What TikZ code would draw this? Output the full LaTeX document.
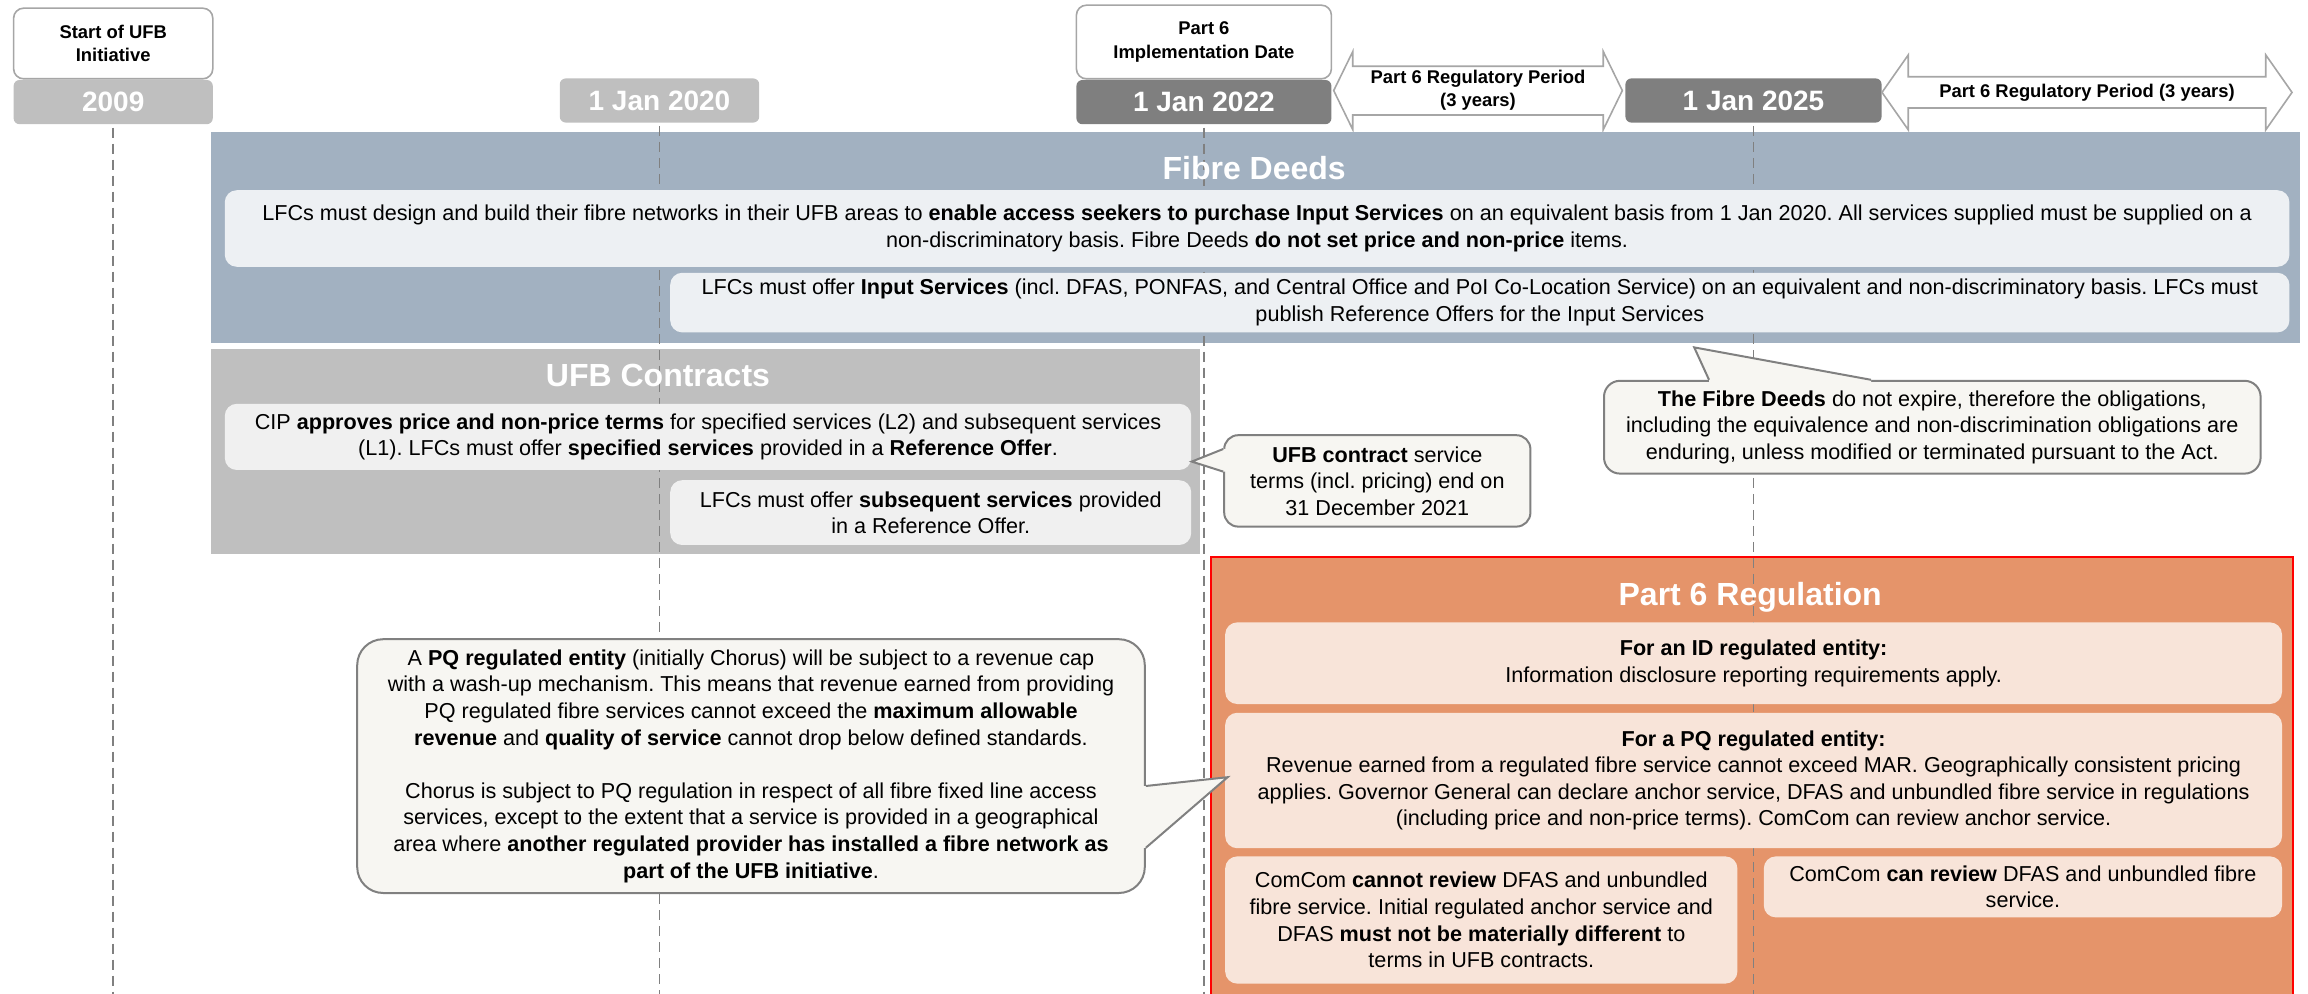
\documentclass[tikz,border=0pt]{standalone}
\usepackage{fontspec}
\setmainfont{Liberation Sans}
\usetikzlibrary{positioning, shapes.arrows}

\definecolor{deedband}{HTML}{A2B1C1}
\definecolor{deedbox}{HTML}{EDF0F3}
\definecolor{ufbband}{HTML}{BFBFBF}
\definecolor{ufbbox}{HTML}{F0F0F0}
\definecolor{regband}{HTML}{E5946A}
\definecolor{regbox}{HTML}{F8E4D9}
\definecolor{notefill}{HTML}{F7F6F2}
\definecolor{noteline}{HTML}{808080}
\definecolor{tagline}{HTML}{A6A6A6}
\definecolor{paledate}{HTML}{BFBFBF}
\definecolor{darkdate}{HTML}{7F7F7F}

\frenchspacing
\begin{document}
\begin{tikzpicture}[x=1pt, y=-1pt, font=\fontsize{10.8}{13.3}\selectfont,
    tagbox/.style={draw=tagline, line width=0.8pt, fill=white, rounded corners=5pt, align=center, inner sep=1pt, anchor=north west, font=\fontsize{9.2}{11.6}\selectfont\bfseries},
    datebox/.style={rounded corners=3pt, minimum height=22.1pt, inner sep=0pt, text=white, font=\fontsize{14}{17}\selectfont\bfseries},
    period/.style={double arrow, draw=tagline, line width=0.8pt, fill=white, inner sep=0pt, align=center, font=\fontsize{9.2}{11.6}\selectfont\bfseries},
    band/.style={anchor=north west, inner sep=0pt},
    bandtitle/.style={text=white, font=\fontsize{16}{19}\selectfont\bfseries},
    inbox/.style={rounded corners=6pt, anchor=north west, align=center, inner sep=1.5pt},
    note/.style={draw=noteline, line width=1pt, fill=notefill, anchor=north west, align=center, inner sep=1.5pt},
    timeline/.style={draw=noteline, line width=0.8pt, dash pattern=on 5pt off 3pt}
  ]
  \useasboundingbox (0,0) rectangle (1154,496.8);
  \coordinate (bottom) at (0,496.8);

  % milestones
  \node[tagbox, minimum width=99.6pt, minimum height=35.3pt] (start) at (6.4,3.7) {Start of UFB\\Initiative};
  \node[datebox, fill=paledate, minimum width=99.6pt, below=0pt of start] (d2009) {2009};
  \node[datebox, fill=paledate, minimum width=99.7pt, anchor=north west] (d2020) at (279.7,39) {1 Jan 2020};
  \node[tagbox, minimum width=127.5pt, minimum height=36.8pt] (impl) at (537.8,2.2) {Part 6\\Implementation Date};
  \node[datebox, fill=darkdate, minimum width=127.5pt, below=0pt of impl] (d2022) {1 Jan 2022};
  \node[datebox, fill=darkdate, minimum width=128.1pt, anchor=north west] (d2025) at (812.5,39) {1 Jan 2025};
  \node[period, minimum height=144.3pt, minimum width=39pt, double arrow head extend=6.3pt, double arrow tip angle=128] (per1) at (739,45.3) {Part 6 Regulatory Period\\(3 years)};
  \node[period, minimum height=205pt, minimum width=37.5pt, double arrow head extend=6.6pt, double arrow tip angle=110] (per2) at (1043.5,46.2) {Part 6 Regulatory Period (3 years)};

  % bands
  \node[band, fill=deedband, minimum width=1044.4pt, minimum height=105.6pt] (deeds) at (105.2,65.9) {};
  \node[band, fill=ufbband, minimum width=494.6pt, minimum height=102.6pt] (ufb) at (105.2,174.1) {};
  \node[band, fill=regband, draw=red, line width=0.8pt, minimum width=541pt, minimum height=222.3pt] (reg) at (605,278.2) {};

  \foreach \yr in {d2009, d2020, d2022, d2025}
    \draw[timeline] ([yshift=-1.5pt]\yr.south) -- (\yr.south |- bottom);

  \node[bandtitle] (deedstitle) at (627.1,83.9) {Fibre Deeds};
  \node[bandtitle] (ufbtitle) at (329,187.7) {UFB Contracts};
  \node[bandtitle] (regtitle) at (875.1,298.4) {Part 6 Regulation};

  % Fibre Deeds
  \node[inbox, fill=deedbox, minimum width=1032.3pt, minimum height=38.3pt] (fd1) at (112.2,94.9)
    {LFCs must design and build their fibre networks in their UFB areas to \textbf{enable access seekers to purchase Input Services} on an equivalent basis from 1 Jan 2020. All services supplied must be supplied on a\\non-discriminatory basis. Fibre Deeds \textbf{do not set price and non-price} items.};
  \node[inbox, fill=deedbox, minimum width=809.6pt, minimum height=29.8pt] (fd2) at (334.9,136.2)
    {LFCs must offer \textbf{Input Services} (incl. DFAS, PONFAS, and Central Office and PoI Co-Location Service) on an equivalent and non-discriminatory basis. LFCs must\\publish Reference Offers for the Input Services};

  % UFB contracts
  \node[inbox, fill=ufbbox, minimum width=483.2pt, minimum height=33.1pt] (ufb1) at (112.2,201.7)
    {CIP \textbf{approves price and non-price terms} for specified services (L2) and subsequent services\\(L1). LFCs must offer \textbf{specified services} provided in a \textbf{Reference Offer}.};
  \node[inbox, fill=ufbbox, minimum width=260.5pt, minimum height=32.4pt] (ufb2) at (334.9,239.9)
    {LFCs must offer \textbf{subsequent services} provided\\in a Reference Offer.};

  % Part 6 regulation
  \node[inbox, fill=regbox, minimum width=528.4pt, minimum height=40.8pt] (reg1) at (612.4,311)
    {\textbf{For an ID regulated entity:}\\Information disclosure reporting requirements apply.};
  \node[inbox, fill=regbox, minimum width=528.4pt, minimum height=67.7pt] (reg2) at (612.4,356.2)
    {\textbf{For a PQ regulated entity:}\\Revenue earned from a regulated fibre service cannot exceed MAR. Geographically consistent pricing\\applies. Governor General can declare anchor service, DFAS and unbundled fibre service in regulations\\(including price and non-price terms). ComCom can review anchor service.};
  \node[inbox, fill=regbox, minimum width=256.1pt, minimum height=63.6pt] (reg3) at (612.4,428)
    {ComCom \textbf{cannot review} DFAS and unbundled\\fibre service. Initial regulated anchor service and\\DFAS \textbf{must not be materially different} to\\terms in UFB contracts.};
  \node[inbox, fill=regbox, minimum width=259.1pt, minimum height=30.5pt] (reg4) at (881.7,428)
    {ComCom \textbf{can review} DFAS and unbundled fibre\\service.};

  % notes
  \node[note, rounded corners=7pt, minimum width=153.1pt, minimum height=45.7pt] (ufbnote) at (611.6,217.1)
    {\textbf{UFB contract} service\\terms (incl. pricing) end on\\31 December 2021};
  \coordinate (ufbtip) at (595.9,230.8);
  \fill[notefill] (ufbnote.west |- 0,224.5) -- (ufbtip) -- (ufbnote.west |- 0,235.8) -- ++(2,0) -- ++(0,-11.3) -- cycle;
  \draw[noteline, line width=1pt] (ufbnote.west |- 0,224.5) -- (ufbtip) -- (ufbnote.west |- 0,235.8);

  \node[note, rounded corners=8pt, minimum width=328.3pt, minimum height=46.4pt] (fdnote) at (801.5,189.9)
    {\textbf{The Fibre Deeds} do not expire, therefore the obligations,\\including the equivalence and non-discrimination obligations are\\enduring, unless modified or terminated pursuant to the Act.};
  \coordinate (fdtip) at (847.1,173.7);
  \fill[notefill] (854.5,0 |- fdnote.north) -- (fdtip) -- (935.5,0 |- fdnote.north) -- ++(0,2) -- ++(-81,0) -- cycle;
  \draw[noteline, line width=1pt] (854.5,0 |- fdnote.north) -- (fdtip) -- (935.5,0 |- fdnote.north);

  \node[note, rounded corners=13pt, minimum width=393.8pt, minimum height=126.9pt] (pqnote) at (178.1,319.1)
    {A \textbf{PQ regulated entity} (initially Chorus) will be subject to a revenue cap\\with a wash-up mechanism. This means that revenue earned from providing\\PQ regulated fibre services cannot exceed the \textbf{maximum allowable}\\\textbf{revenue} and \textbf{quality of service} cannot drop below defined standards.\\[13.3pt]Chorus is subject to PQ regulation in respect of all fibre fixed line access\\services, except to the extent that a service is provided in a geographical\\area where \textbf{another regulated provider has installed a fibre network as}\\\textbf{part of the UFB initiative}.};
  \coordinate (pqtip) at (613.8,388.6);
  \fill[notefill] (pqnote.east |- 0,393) -- (pqtip) -- (pqnote.east |- 0,423.9) -- ++(-2,0) -- ++(0,-30.9) -- cycle;
  \draw[noteline, line width=1pt] (pqnote.east |- 0,393) -- (pqtip) -- (pqnote.east |- 0,423.9);
\end{tikzpicture}
\end{document}
